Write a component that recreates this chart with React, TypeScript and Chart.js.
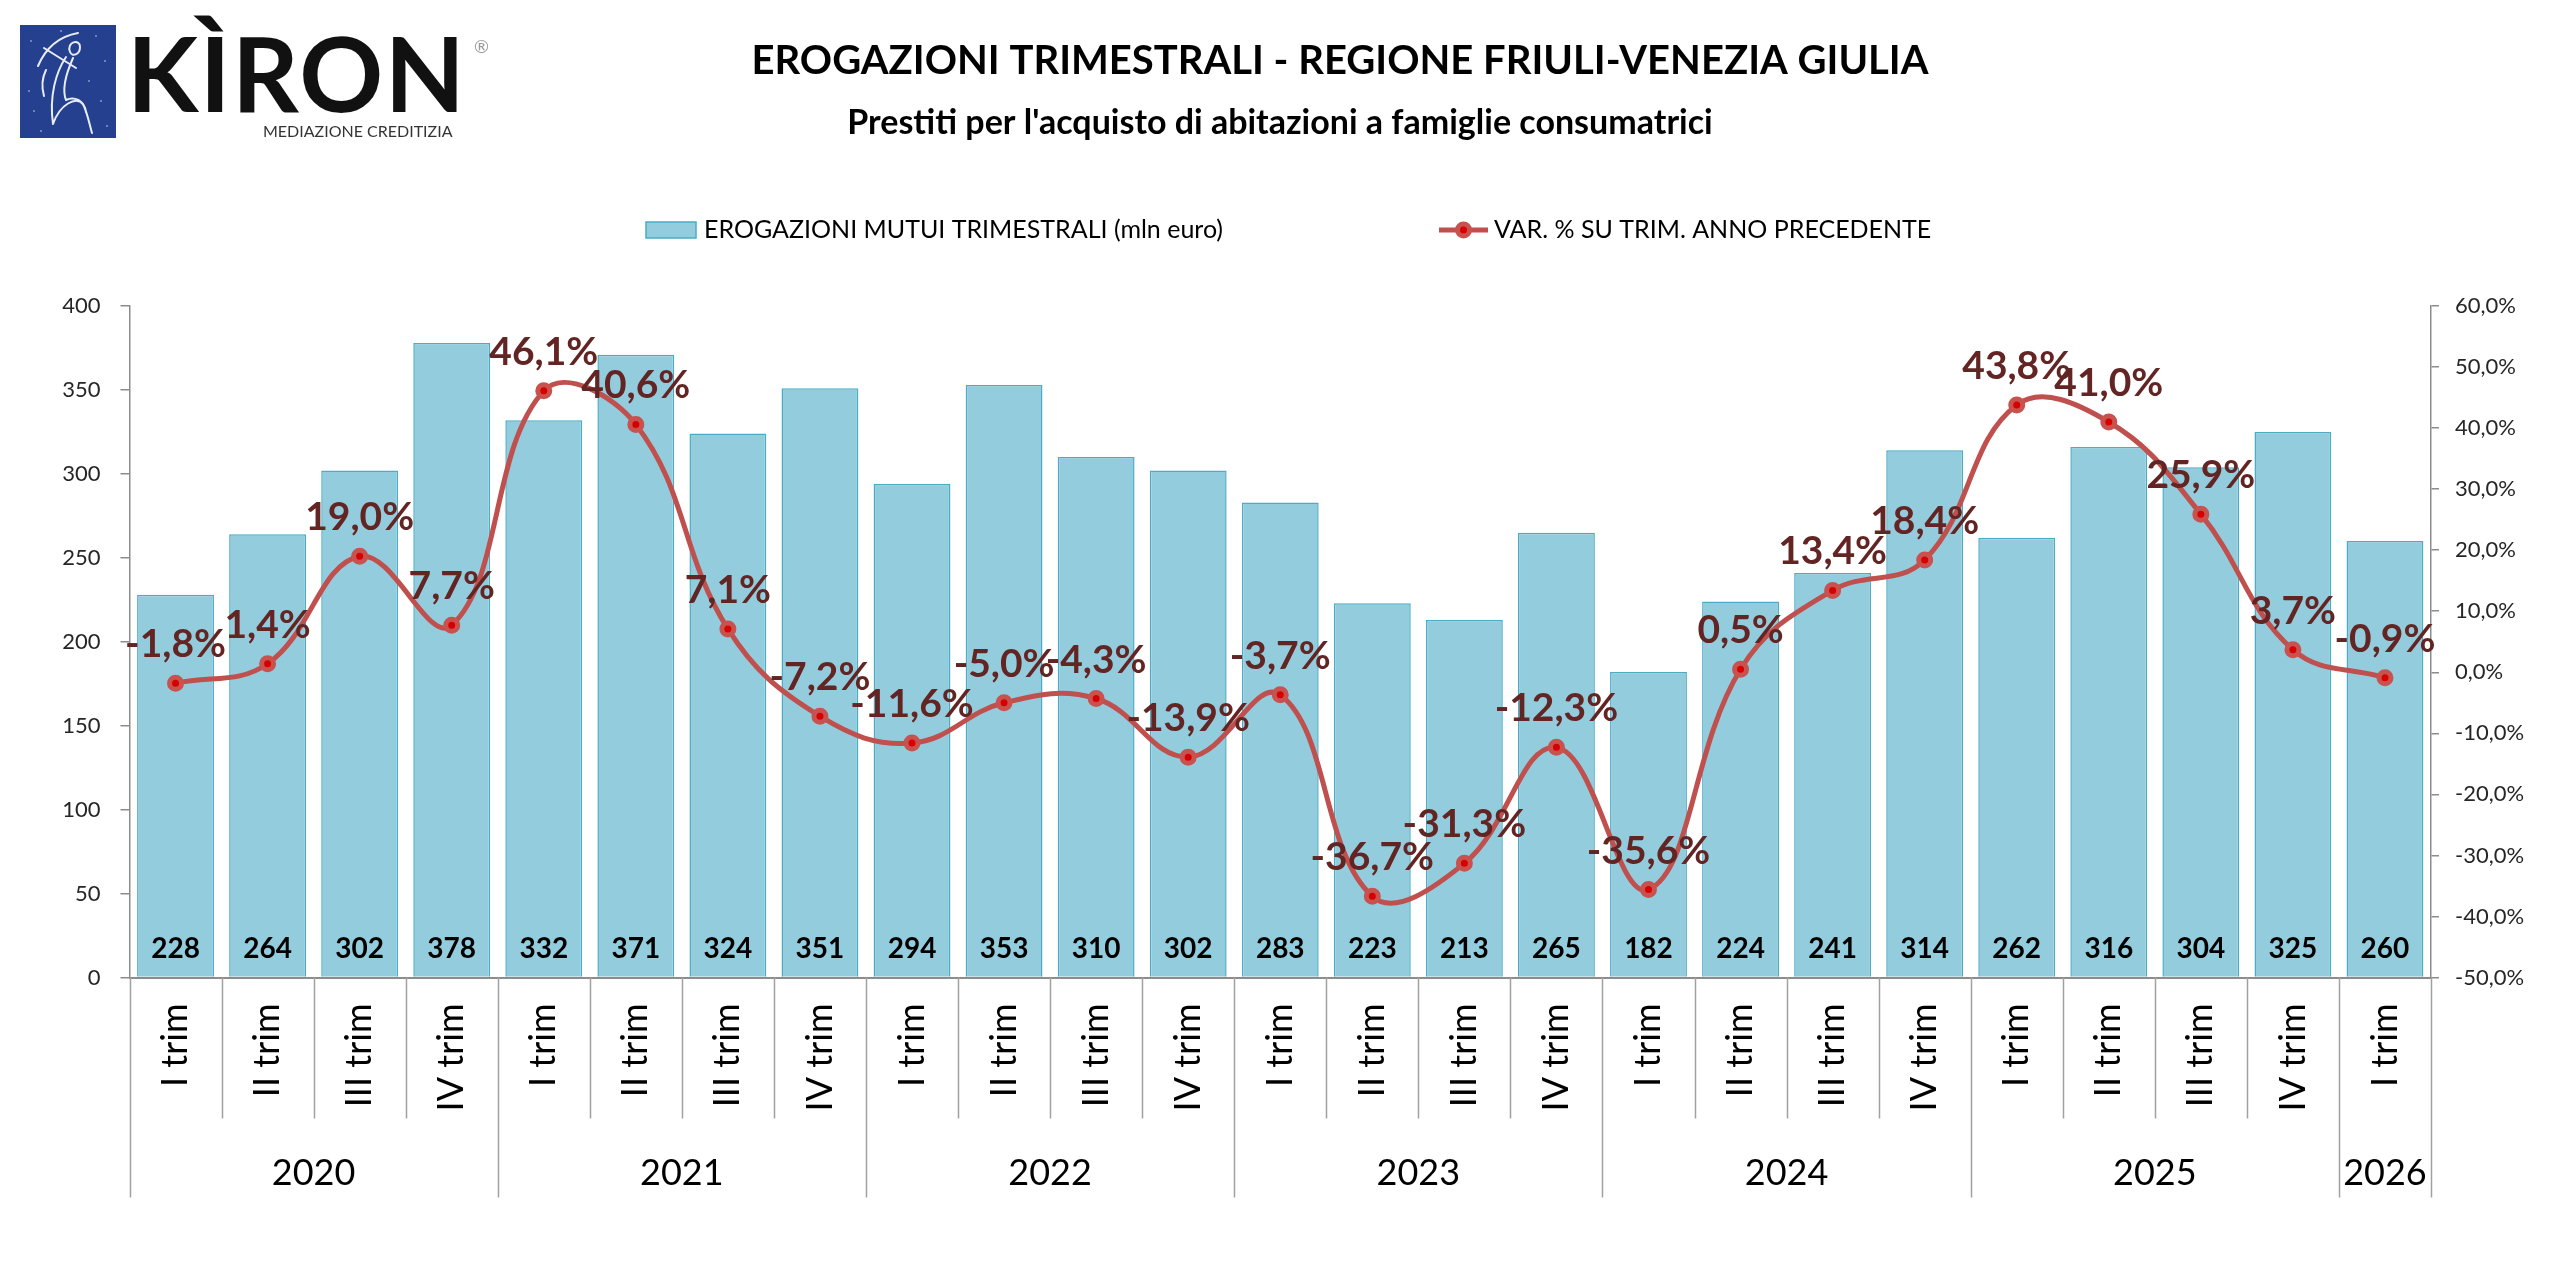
import React, { useEffect, useRef } from 'react';
import { Chart, registerables } from 'chart.js';

Chart.register(...registerables);

// ---------------- DATA ----------------
const quarters = [
  'I trim', 'II trim', 'III trim', 'IV trim',
  'I trim', 'II trim', 'III trim', 'IV trim',
  'I trim', 'II trim', 'III trim', 'IV trim',
  'I trim', 'II trim', 'III trim', 'IV trim',
  'I trim', 'II trim', 'III trim', 'IV trim',
  'I trim', 'II trim', 'III trim', 'IV trim',
  'I trim',
];
const years = [
  '2020', '2020', '2020', '2020',
  '2021', '2021', '2021', '2021',
  '2022', '2022', '2022', '2022',
  '2023', '2023', '2023', '2023',
  '2024', '2024', '2024', '2024',
  '2025', '2025', '2025', '2025',
  '2026',
];
const erogazioni = [
  228, 264, 302, 378,
  332, 371, 324, 351,
  294, 353, 310, 302,
  283, 223, 213, 265,
  182, 224, 241, 314,
  262, 316, 304, 325,
  260,
];
const variazioni = [
  -1.8, 1.4, 19.0, 7.7,
  46.1, 40.6, 7.1, -7.2,
  -11.6, -5.0, -4.3, -13.9,
  -3.7, -36.7, -31.3, -12.3,
  -35.6, 0.5, 13.4, 18.4,
  43.8, 41.0, 25.9, 3.7,
  -0.9,
];
const leftAxis = { min: 0, max: 400, step: 50 };
const rightAxis = { min: -50, max: 60, step: 10 };

const titleText = 'EROGAZIONI TRIMESTRALI - REGIONE FRIULI-VENEZIA GIULIA';
const subtitleText = "Prestiti per l'acquisto di abitazioni a famiglie consumatrici";
const barLegend = 'EROGAZIONI MUTUI TRIMESTRALI (mln euro)';
const lineLegend = 'VAR. % SU TRIM. ANNO PRECEDENTE';
const logoName = 'KÌRON';
const logoTag = 'MEDIAZIONE CREDITIZIA';

// ---------------- STYLE ----------------
const FONT = 'Lato, "Noto Sans", sans-serif';
const BAR_FILL = '#93CDDD';
const BAR_BORDER = '#4BACC6';
const LINE_COLOR = '#C0504D';
const POINT_FILL = '#D60000';
const PCT_LABEL = '#632523';
const AXIS_GRAY = '#8C8C8C';
const SEP_GRAY = '#A0A0A0';

const W = 2560;
const H = 1285;

const fmtPct = (v: number) => v.toFixed(1).replace('.', ',') + '%';

function drawLogo(ctx: CanvasRenderingContext2D) {
  ctx.save();
  ctx.fillStyle = '#24408E';
  ctx.fillRect(20, 25, 96, 113);
  // speckles
  ctx.fillStyle = 'rgba(200,210,240,0.45)';
  const dots = [[30, 40], [95, 35], [104, 60], [28, 90], [100, 100], [40, 130], [88, 80], [106, 125], [33, 110], [60, 30]];
  dots.forEach(([x, y]) => ctx.fillRect(x, y, 2, 2));
  // stylised figure
  ctx.strokeStyle = '#E8ECF7';
  ctx.lineWidth = 2;
  ctx.lineCap = 'round';
  ctx.beginPath();
  ctx.moveTo(38, 66); ctx.quadraticCurveTo(50, 38, 78, 33);
  ctx.moveTo(44, 48); ctx.lineTo(76, 68);
  ctx.moveTo(70, 52); ctx.bezierCurveTo(66, 42, 80, 38, 80, 47); ctx.bezierCurveTo(80, 55, 72, 57, 70, 52);
  ctx.moveTo(66, 57); ctx.bezierCurveTo(56, 72, 49, 96, 53, 124);
  ctx.moveTo(73, 58); ctx.bezierCurveTo(65, 76, 62, 90, 66, 100);
  ctx.moveTo(53, 124); ctx.bezierCurveTo(60, 104, 76, 96, 83, 104); ctx.bezierCurveTo(87, 112, 89, 122, 92, 133);
  ctx.moveTo(66, 100); ctx.bezierCurveTo(74, 96, 84, 100, 86, 112);
  ctx.moveTo(46, 70); ctx.quadraticCurveTo(40, 82, 44, 96);
  ctx.stroke();
  // name
  ctx.fillStyle = '#111111';
  ctx.textAlign = 'left';
  ctx.textBaseline = 'alphabetic';
  ctx.font = `bold 104px ${FONT}`;
  const natural = ctx.measureText(logoName).width;
  const spacing = Math.max(0, (338 - natural) / (logoName.length - 1));
  (ctx as any).letterSpacing = `${spacing}px`;
  ctx.fillText(logoName, 127, 112);
  (ctx as any).letterSpacing = '0px';
  ctx.font = `16px ${FONT}`;
  ctx.fillStyle = '#333333';
  ctx.fillText(logoTag, 263, 137);
  ctx.font = `18px ${FONT}`;
  ctx.fillStyle = '#9A9A9A';
  ctx.fillText('®', 474, 53);
  ctx.restore();
}

const decorPlugin = {
  id: 'decor',
  afterDatasetsDraw(chart: any) {
    const ctx: CanvasRenderingContext2D = chart.ctx;
    const area = chart.chartArea;
    ctx.save();
    ctx.textAlign = 'center';
    ctx.textBaseline = 'alphabetic';
    // bar values at the base of each bar
    const barMeta = chart.getDatasetMeta(0);
    ctx.font = `bold 28px ${FONT}`;
    ctx.fillStyle = '#000000';
    barMeta.data.forEach((el: any, i: number) => {
      ctx.fillText(String(erogazioni[i]), el.x, area.bottom - 20);
    });
    // percent labels above points
    const lineMeta = chart.getDatasetMeta(1);
    ctx.font = `bold 39px ${FONT}`;
    ctx.fillStyle = PCT_LABEL;
    lineMeta.data.forEach((el: any, i: number) => {
      ctx.fillText(fmtPct(variazioni[i]), el.x, el.y - 26);
    });
    ctx.restore();
  },
  afterDraw(chart: any) {
    const ctx: CanvasRenderingContext2D = chart.ctx;
    const area = chart.chartArea;
    const xs = chart.scales.x;
    const n = quarters.length;
    const half = (xs.getPixelForValue(1) - xs.getPixelForValue(0)) / 2;
    const boundary = (i: number) => (i < n ? xs.getPixelForValue(i) - half : xs.getPixelForValue(n - 1) + half);

    ctx.save();
    // separators under the axis
    ctx.strokeStyle = SEP_GRAY;
    ctx.lineWidth = 1.5;
    for (let i = 0; i <= n; i++) {
      const isYear = i === 0 || i === n || years[i] !== years[i - 1];
      const x = Math.round(boundary(i)) + 0.5;
      ctx.beginPath();
      ctx.moveTo(x, area.bottom);
      ctx.lineTo(x, area.bottom + (isYear ? 220 : 141));
      ctx.stroke();
    }
    // year labels
    ctx.font = `36px ${FONT}`;
    ctx.fillStyle = '#000000';
    ctx.textAlign = 'center';
    ctx.textBaseline = 'alphabetic';
    let start = 0;
    for (let i = 1; i <= n; i++) {
      if (i === n || years[i] !== years[start]) {
        const cx = (boundary(start) + boundary(i)) / 2;
        ctx.fillText(years[start], cx, area.bottom + 207);
        start = i;
      }
    }

    // titles
    ctx.font = `bold 40px ${FONT}`;
    ctx.fillText(titleText, 1340, 74);
    ctx.font = `bold 34px ${FONT}`;
    ctx.fillText(subtitleText, 1280, 134);

    // legend
    ctx.textAlign = 'left';
    ctx.font = `25px ${FONT}`;
    ctx.fillStyle = BAR_FILL;
    ctx.fillRect(646, 222, 50, 16);
    ctx.strokeStyle = BAR_BORDER;
    ctx.lineWidth = 1.5;
    ctx.strokeRect(646, 222, 50, 16);
    ctx.fillStyle = '#000000';
    ctx.fillText(barLegend, 704, 238);

    ctx.strokeStyle = LINE_COLOR;
    ctx.lineWidth = 5;
    ctx.beginPath();
    ctx.moveTo(1439, 230);
    ctx.lineTo(1488, 230);
    ctx.stroke();
    ctx.beginPath();
    ctx.arc(1463.5, 230, 6, 0, Math.PI * 2);
    ctx.fillStyle = POINT_FILL;
    ctx.fill();
    ctx.strokeStyle = '#C9524F';
    ctx.lineWidth = 5;
    ctx.stroke();
    ctx.fillStyle = '#000000';
    ctx.fillText(lineLegend, 1494, 238);

    drawLogo(ctx);
    ctx.restore();
  },
};

export default function App() {
  const canvasRef = useRef<HTMLCanvasElement | null>(null);

  useEffect(() => {
    document.body.style.margin = '0';
    document.body.style.background = '#ffffff';
    const canvas = canvasRef.current;
    if (!canvas) return;

    const chart = new Chart(canvas, {
      type: 'bar',
      data: {
        labels: quarters,
        datasets: [
          {
            type: 'bar',
            label: barLegend,
            data: erogazioni,
            yAxisID: 'y',
            backgroundColor: BAR_FILL,
            borderColor: BAR_BORDER,
            borderWidth: 1.5,
            barPercentage: 0.835,
            categoryPercentage: 1,
            order: 2,
          },
          {
            type: 'line',
            label: lineLegend,
            data: variazioni,
            yAxisID: 'y1',
            borderColor: LINE_COLOR,
            borderWidth: 5,
            tension: 0.4,
            pointRadius: 6,
            pointBorderWidth: 5,
            pointBackgroundColor: POINT_FILL,
            pointBorderColor: '#C9524F',
            order: 1,
          },
        ] as any,
      },
      options: {
        responsive: false,
        animation: false,
        devicePixelRatio: 1,
        layout: { padding: { top: 306, left: 0, right: 0, bottom: 0 } },
        plugins: {
          legend: { display: false },
          tooltip: { enabled: false },
          title: { display: false },
        },
        scales: {
          x: {
            type: 'category',
            offset: true,
            grid: { display: false, drawTicks: false },
            border: { display: true, color: AXIS_GRAY, width: 2 },
            ticks: {
              autoSkip: false,
              minRotation: 90,
              maxRotation: 90,
              padding: 26,
              color: '#000000',
              font: { family: FONT, size: 36 },
            },
            afterFit: (s: any) => { s.height = H - 977.5; },
          },
          y: {
            type: 'linear',
            position: 'left',
            min: leftAxis.min,
            max: leftAxis.max,
            ticks: {
              stepSize: leftAxis.step,
              padding: 20,
              color: '#262626',
              font: { family: FONT, size: 22 },
            },
            grid: { drawOnChartArea: false, drawTicks: true, tickLength: 9, color: AXIS_GRAY, lineWidth: 1.5 },
            border: { display: true, color: AXIS_GRAY, width: 1.5 },
            afterFit: (s: any) => { s.width = 129.5; },
          },
          y1: {
            type: 'linear',
            position: 'right',
            min: rightAxis.min,
            max: rightAxis.max,
            ticks: {
              stepSize: rightAxis.step,
              padding: 16,
              color: '#262626',
              font: { family: FONT, size: 22 },
              callback: (v: any) => fmtPct(Number(v)),
            },
            grid: { drawOnChartArea: false, drawTicks: true, tickLength: 8, color: AXIS_GRAY, lineWidth: 1.5 },
            border: { display: true, color: AXIS_GRAY, width: 1.5 },
            afterFit: (s: any) => { s.width = W - 2431; },
          },
        },
      } as any,
      plugins: [decorPlugin],
    });

    return () => chart.destroy();
  }, []);

  return (
    <div style={{ width: W, height: H, overflow: 'hidden', background: '#ffffff' }}>
      <canvas ref={canvasRef} width={W} height={H} style={{ display: 'block' }} />
    </div>
  );
}
